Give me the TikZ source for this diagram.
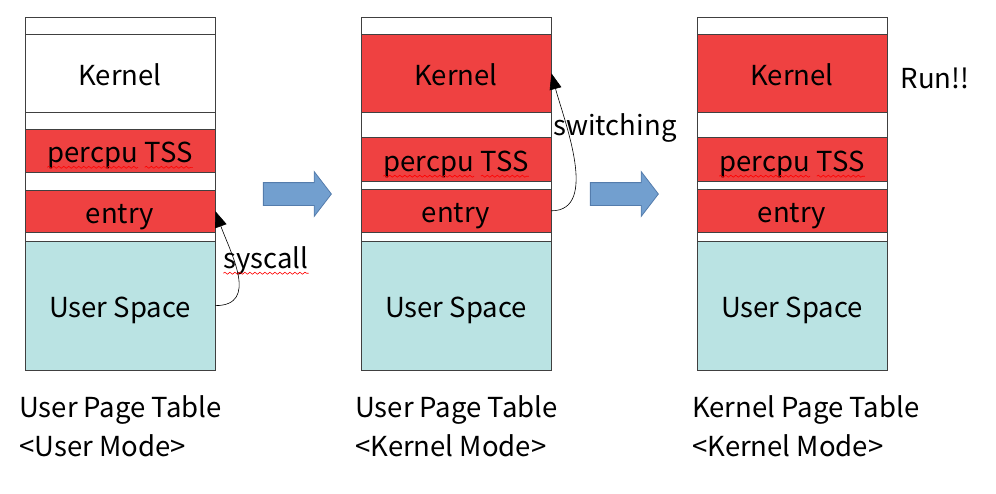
\documentclass[tikz,border=0pt]{standalone}
\usepackage{fontspec}
\setmainfont{Noto Sans CJK SC}
\usetikzlibrary{arrows.meta,shapes.arrows,decorations.pathmorphing}

\definecolor{kred}{RGB}{239,65,65}
\definecolor{ublue}{RGB}{186,227,227}
\definecolor{framegray}{RGB}{64,64,64}
\definecolor{arrowblue}{RGB}{114,159,207}
\definecolor{arrowedge}{RGB}{84,124,172}

% red wavy underline of the spell checker
\newcommand\spellerr[1]{\tikz[baseline=(w.base)]{\node[inner sep=0pt, minimum width=0pt,
    minimum height=0pt, text height=, text depth=, draw=none, fill=none] (w) {#1};
  \draw[red, line width=0.6pt, decorate, decoration={snake, amplitude=1pt, segment length=5pt}]
    ([yshift=-4.5pt]w.base west) -- ([yshift=-4.5pt]w.base east);}}

\tikzset{
  layer/.style={draw=framegray, line width=0.8pt, minimum width=190pt, inner sep=0pt,
    text height=27pt, text depth=3pt, font=\fontsize{27.5}{32}\selectfont},
  strip/.style={layer, text height=0pt, text depth=0pt, minimum height=17pt},
  kernred/.style={layer, fill=kred},
  userblue/.style={layer, fill=ublue},
  caption/.style={anchor=base west, inner sep=0pt, font=\fontsize{27.5}{32}\selectfont},
  note/.style={inner sep=0pt, font=\fontsize{27.5}{32}\selectfont},
  jump/.style={-{Triangle[length=16pt,width=12pt]}, line width=0.6pt},
  bigarrow/.style={single arrow, draw=arrowedge, fill=arrowblue, line width=0.8pt,
    minimum height=68pt, inner xsep=0pt, inner ysep=11pt, text height=0pt, text depth=0pt,
    single arrow head extend=11pt, single arrow head indent=0pt, single arrow tip angle=105},
}

\begin{document}
\begin{tikzpicture}[x=1pt,y=-1pt]
\useasboundingbox (0,0) rectangle (996,493);

% user page table, user mode
\draw[framegray, line width=0.8pt] (25,17) rectangle (215,370);
\node[strip] (top1) at (120,25.7) {};
\node[layer, fill=white, minimum height=78pt] (kn1) at (120,73.3) {Kernel};
\node[kernred, minimum height=43pt] (tss1) at (120,150.8) {\spellerr{percpu} \spellerr{TSS}};
\node[kernred, minimum height=42.3pt] (en1) at (120,211.2) {entry};
\node[userblue, minimum height=128.7pt] (us1) at (120,305.6) {User Space};

% user page table, kernel mode
\draw[framegray, line width=0.8pt] (361,17) rectangle (551,370);
\node[strip] (top2) at (456,25.7) {};
\node[kernred, minimum height=78pt] (kn2) at (456,73.3) {Kernel};
\node[kernred, minimum height=44pt] (tss2) at (456,159.7) {\spellerr{percpu} \spellerr{TSS}};
\node[kernred, minimum height=43pt] (en2) at (456,210.8) {entry};
\node[userblue, minimum height=128.7pt] (us2) at (456,305.6) {User Space};

% kernel page table, kernel mode
\draw[framegray, line width=0.8pt] (697,17) rectangle (887,370);
\node[strip] (top3) at (792,25.7) {};
\node[kernred, minimum height=78pt] (kn3) at (792,73.3) {Kernel};
\node[kernred, minimum height=44pt] (tss3) at (792,159.7) {\spellerr{percpu} \spellerr{TSS}};
\node[kernred, minimum height=43pt] (en3) at (792,210.8) {entry};
\node[userblue, minimum height=128.7pt] (us3) at (792,305.6) {User Space};

% steps
\node[bigarrow] (step1) at (293,194) {};
\node[bigarrow] (step2) at (620,194) {};

\draw[jump] (us1.east) to[out=0, in=-70, looseness=1.2] (en1.east);
\node[note] (sys) at (266,261) {\spellerr{syscall}};
\draw[jump] (en2.east) to[out=0, in=-75, looseness=0.9] (kn2.east);
\node[note] (sw) at (615,128) {switching};
\node[note] (run) at (935,78) {Run!!};

\node[caption] (cap1) at (19,417) {User Page Table};
\node[caption] (mode1) at (19,456) {<User Mode>};
\node[caption] (cap2) at (355,417) {User Page Table};
\node[caption] (mode2) at (355,456) {<Kernel Mode>};
\node[caption] (cap3) at (692,417) {Kernel Page Table};
\node[caption] (mode3) at (692,456) {<Kernel Mode>};
\end{tikzpicture}
\end{document}
